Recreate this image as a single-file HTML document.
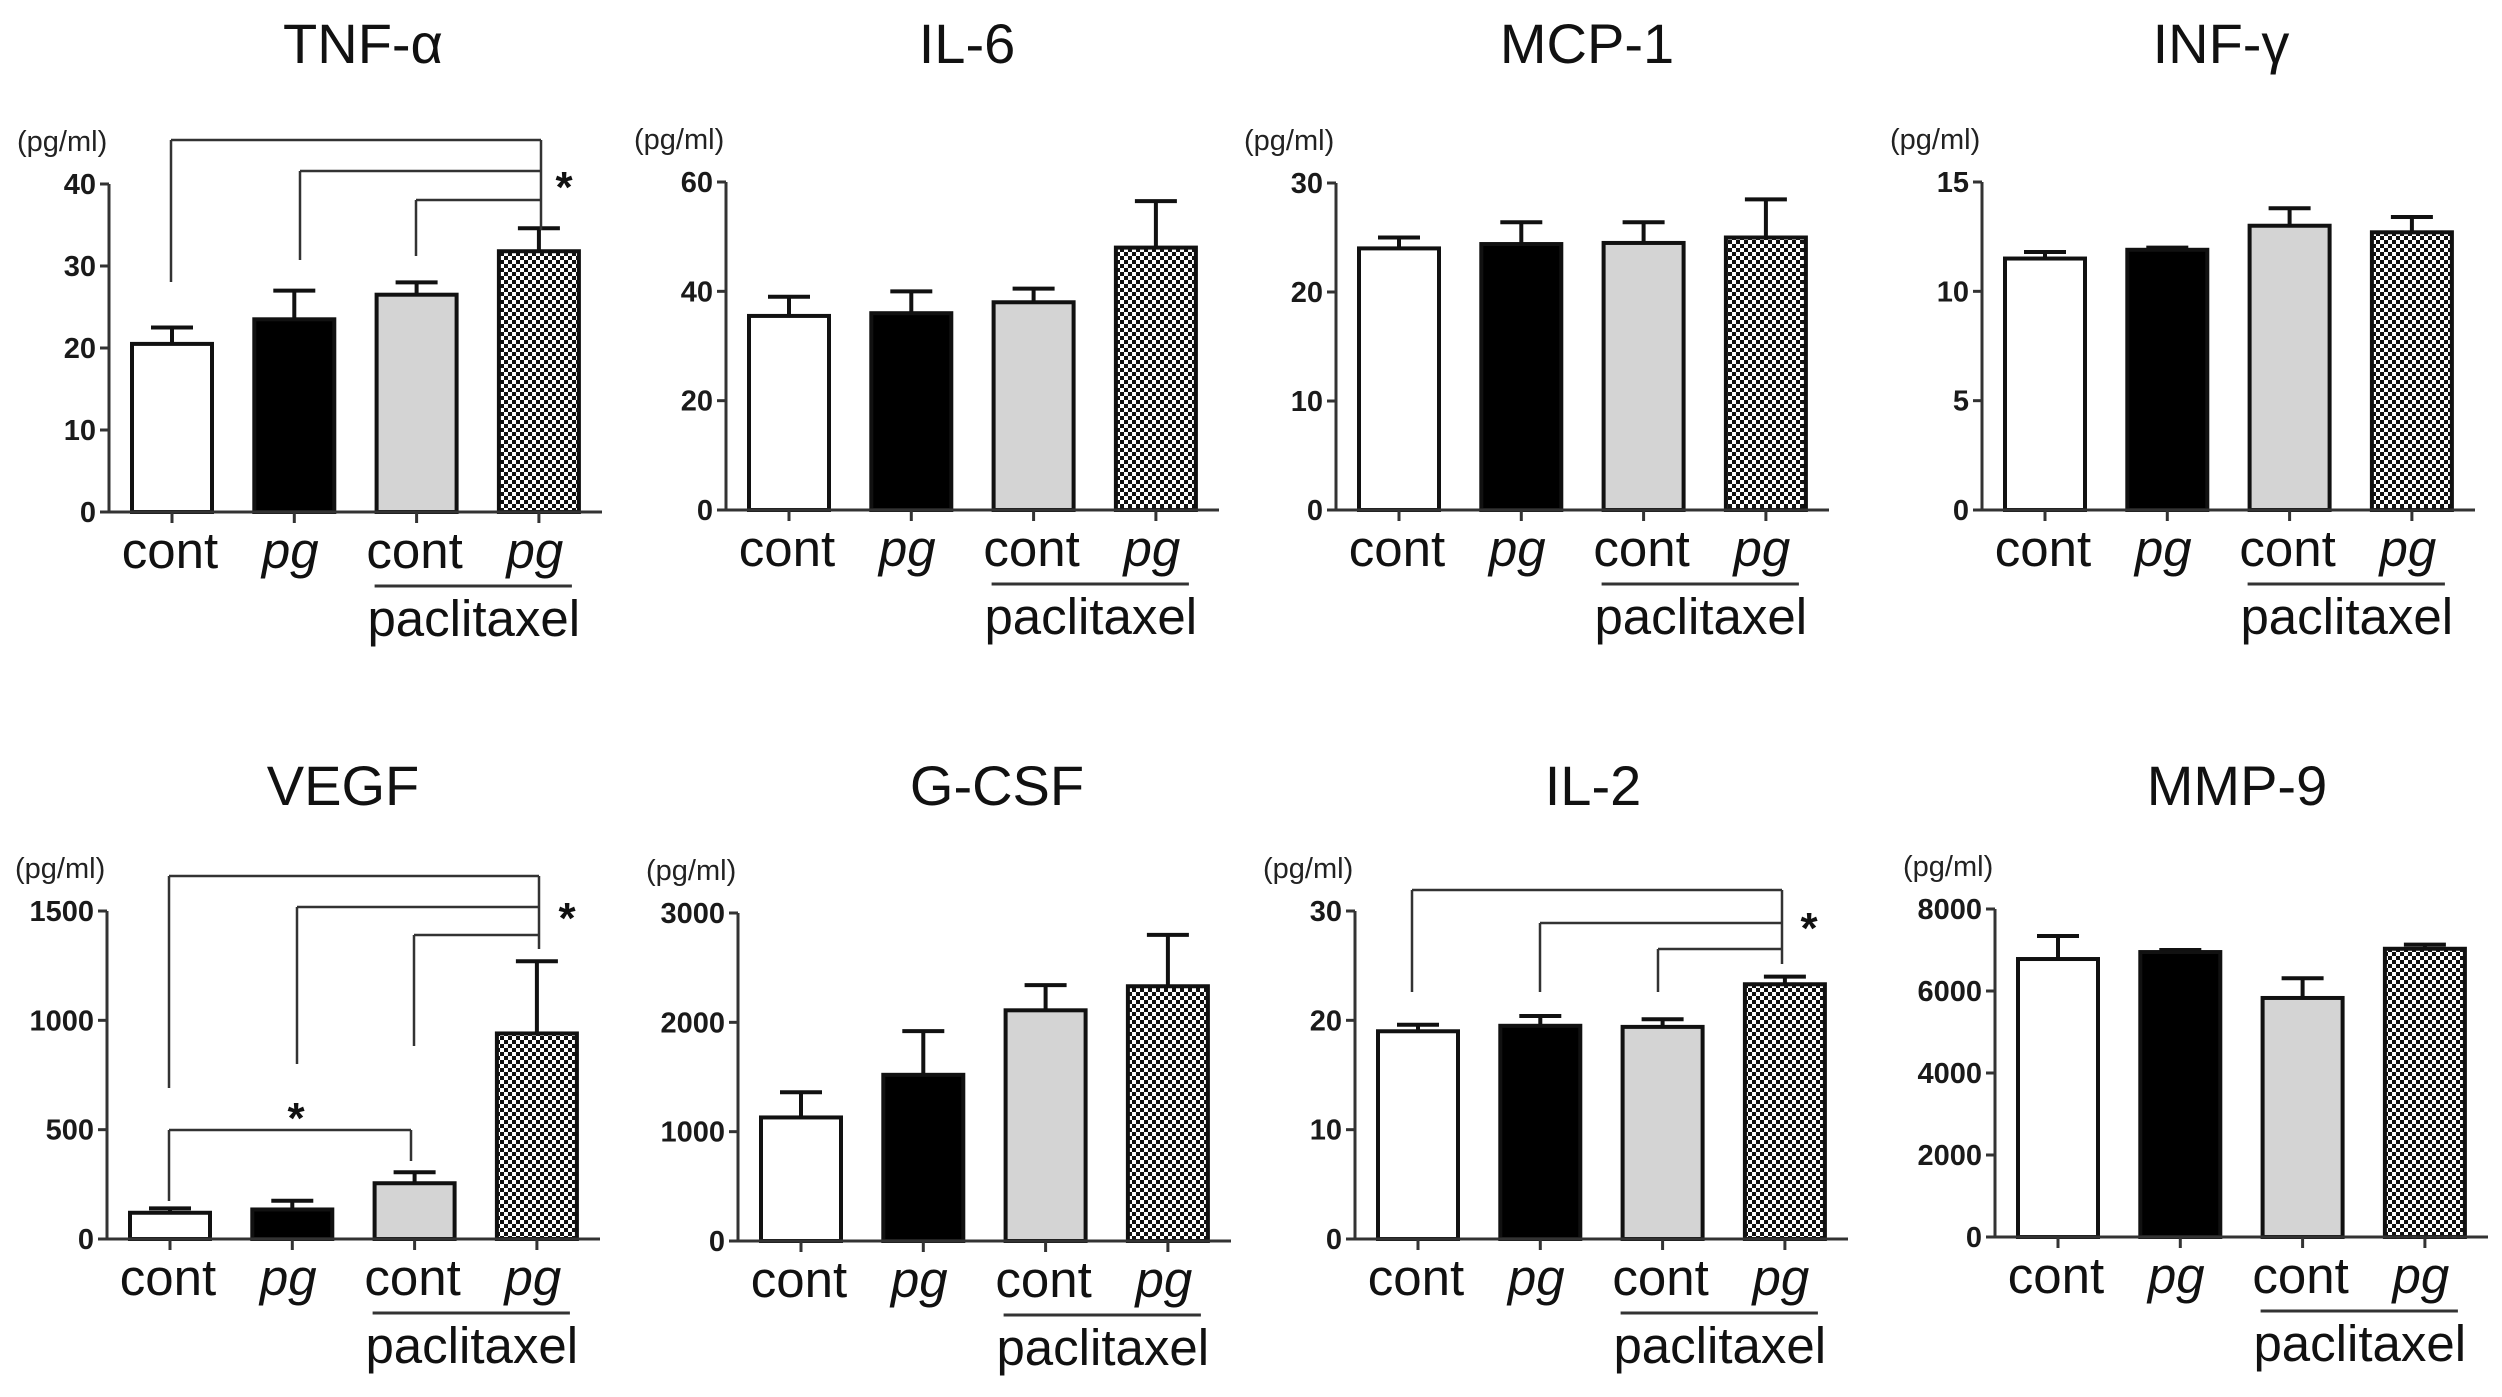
<!DOCTYPE html>
<html><head><meta charset="utf-8">
<style>
html,body{margin:0;padding:0;background:#fff;}
svg{display:block;font-family:"Liberation Sans",Arial,sans-serif;}
</style></head>
<body>
<svg id="fig" width="2502" height="1397" viewBox="0 0 2502 1397" xmlns="http://www.w3.org/2000/svg">
<defs>
<pattern id="checker" width="8" height="8" patternUnits="userSpaceOnUse">
<rect width="8" height="8" fill="#fff"/>
<rect width="4" height="4" fill="#111"/>
<rect x="4" y="4" width="4" height="4" fill="#111"/>
</pattern>
</defs>
</svg>
<script>
// ---- data ----
const titles = ["TNF-α","IL-6","MCP-1","INF-γ","VEGF","G-CSF","IL-2","MMP-9"];
const categories = ["cont","pg","cont","pg"];
const groupLabel = "paclitaxel";
const yMax = [40,60,30,15,1500,3000,30,8000];
const tickLabels = [
  [0,10,20,30,40],[0,20,40,60],[0,10,20,30],[0,5,10,15],
  [0,500,1000,1500],[0,1000,2000,3000],[0,10,20,30],[0,2000,4000,6000,8000]
];
const tnfMeans = [20.5,23.5,26.5,31.8];   const tnfErr = [2,3.5,1.5,2.8];
const il6Means = [35.5,36,38,48];         const il6Err = [3.5,4,2.5,8.5];
const mcpMeans = [24,24.4,24.5,25];       const mcpErr = [1,2,1.9,3.5];
const infMeans = [11.5,11.9,13,12.7];     const infErr = [0.3,0.1,0.8,0.7];
const vegfMeans = [120,135,255,940];      const vegfErr = [20,40,50,330];
const gcsfMeans = [1130,1520,2110,2330];  const gcsfErr = [230,400,230,470];
const il2Means = [19,19.5,19.4,23.3];     const il2Err = [0.6,0.9,0.7,0.7];
const mmpMeans = [6780,6950,5830,7030];   const mmpErr = [560,50,480,100];
const means = [tnfMeans,il6Means,mcpMeans,infMeans,vegfMeans,gcsfMeans,il2Means,mmpMeans];
const errs = [tnfErr,il6Err,mcpErr,infErr,vegfErr,gcsfErr,il2Err,mmpErr];

// ---- layout ----
const axisXs = [109,726,1336,1982,107,738,1355,1995];
const zeroYs = [512,510,510,510,1239,1241,1239,1237];
const topYs  = [184,182,183,182,911,913,911,909];
const titleXs = [363,967,1587,2221,343,997,1593,2237];
const titleYs = [63,63,63,63,805,805,805,805];
const fills = ["#fff","#000","#d4d4d4","url(#checker)"];
const NS = "http://www.w3.org/2000/svg";
const svg = document.getElementById("fig");
function mk(tag, attrs, parent){
  const e = document.createElementNS(NS, tag);
  for (const k in attrs) e.setAttribute(k, attrs[k]);
  (parent||svg).appendChild(e);
  return e;
}
function line(g,x1,y1,x2,y2,w,c){ return mk("line",{x1,y1,x2,y2,stroke:c||"#222","stroke-width":w},g); }

for (let p=0;p<8;p++){
  const g = mk("g",{});
  
  
  const ax = axisXs[p], z = zeroYs[p], top = topYs[p];
  const yS = v => z - (v / yMax[p]) * (z - top);
  const xC = i => ax + 63 + i * 122.3;

  const t = mk("text",{x:titleXs[p],y:titleYs[p],"text-anchor":"middle","font-size":56,fill:"#111"},g);
  t.textContent = titles[p];
  
  

  const u = mk("text",{x:ax-92,y:top-33,"font-size":29,fill:"#222"},g);
  u.textContent = "(pg/ml)";
  
  

  for (let i=0;i<4;i++){
    const c = xC(i), v = means[p][i], e = errs[p][i];
    const et = yS(v+e), bt = yS(v);
    const el = line(g,c,bt,c,et,4,"#111");
    
    
    const cap = line(g,c-21,et,c+21,et,4,"#111");
    
    
    const r = mk("rect",{x:c-40,y:bt,width:80,height:z-bt,fill:fills[i],stroke:"#111","stroke-width":4},g);
    
    
    const tk = line(g,c,z,c,z+11,3,"#333");
    
    
    const lb = mk("text",{x:c-(i%2?4:2),y:z+56,"text-anchor":"middle","font-size":51,fill:"#111","font-style":i%2?"italic":"normal"},g);
    lb.textContent = categories[i];
    
    
  }
  const ya = line(g,ax,top,ax,z+1,3,"#333");
  
  
  const xa = line(g,ax-9,z,ax+493,z,3,"#333");
  
  
  for (const tv of tickLabels[p]){
    const y = yS(tv);
    const tk = line(g,ax-9,y,ax,y,3,"#333");
    
    
    const tl = mk("text",{x:ax-13,y:y+10,"text-anchor":"end","font-size":29,"font-weight":"bold",fill:"#1a1a1a"},g);
    tl.textContent = String(tv);
    
    
  }
  const gl = line(g,xC(2)-42,z+74,xC(3)+33,z+74,3,"#333");
  
  
  const gt = mk("text",{x:(xC(2)+xC(3))/2-4,y:z+124,"text-anchor":"middle","font-size":51,fill:"#111"},g);
  gt.textContent = groupLabel;
  
  
}

function bracket(rightX, rightBottom, levels, drops, starX, starY, name){
  const g = mk("g",{});
  
  
  line(g,rightX,levels[0],rightX,rightBottom,2.5,"#333");
  for (let k=0;k<levels.length;k++){
    line(g,drops[k][0],levels[k],rightX,levels[k],2.5,"#333");
    line(g,drops[k][0],levels[k],drops[k][0],drops[k][1],2.5,"#333");
  }
  const s = mk("text",{x:starX,y:starY+18,"text-anchor":"middle","font-size":44,"font-weight":"bold",fill:"#111"},g);
  s.textContent = "*";
}
bracket(541,230,[140,171,200],[[171,282],[300,260],[416,256]],564,184,"tnf-significance-bracket");
bracket(539,949,[876,907,935],[[169,1088],[297,1064],[414,1046]],567,915,"vegf-significance-bracket");
bracket(1782,964,[890,923,949],[[1412,992],[1540,992],[1658,992]],1809,925,"il2-significance-bracket");
(function(){
  const g = mk("g",{});
  
  
  line(g,169,1130,411,1130,2.5,"#333");
  line(g,169,1130,169,1201,2.5,"#333");
  line(g,411,1130,411,1161,2.5,"#333");
  const s = mk("text",{x:296,y:1133,"text-anchor":"middle","font-size":44,"font-weight":"bold",fill:"#111"},g);
  s.textContent = "*";
})();
</script>
</body></html>
